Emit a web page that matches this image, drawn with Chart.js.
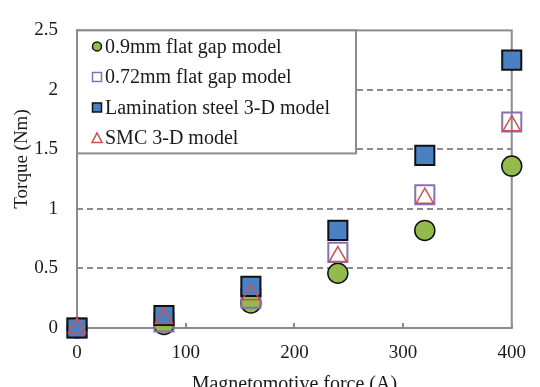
<!DOCTYPE html>
<html>
<head>
<meta charset="utf-8">
<script src="https://cdn.jsdelivr.net/npm/chart.js@4.4.7/dist/chart.umd.min.js"></script>
<style>
    html, body { margin: 0; padding: 0; background: #ffffff; }
    #wrap { width: 540px; height: 387px; }
</style>
</head>
<body>
<div id="wrap"><canvas id="torque_chart"></canvas></div>
<script>
// Magnetomotive force (A)
var mmf = [0, 80, 160, 240, 320, 400];

// Torque (Nm) per model
var gap09    = [0, 0.03, 0.21, 0.46, 0.82, 1.36];
var gap072   = [0, 0.05, 0.25, 0.635, 1.12, 1.73];
var lamSteel = [0, 0.105, 0.35, 0.82, 1.45, 2.25];
var smc3d    = [0, 0.08, 0.28, 0.60, 1.09, 1.70];

var seriesNames = ['0.9mm flat gap model', '0.72mm flat gap model', 'Lamination steel 3-D model', 'SMC 3-D model'];

var xTicks = [0, 100, 200, 300, 400];
var yTicks = [0, 0.5, 1, 1.5, 2, 2.5];

var xTitle = 'Magnetomotive force (A)';
var yTitle = 'Torque (Nm)';

var FONT = "'Liberation Serif', 'Times New Roman', serif";
var GRAY = '#8c8c8c';
var INK = '#1a1a1a';

function toPoints(ys) {
    return mmf.map(function(x, i) { return {x: x, y: ys[i]}; });
}

/*
 * Frame, dashed gridlines, small inside x ticks, the y title and the legend box.
 */
var framePlugin = {
    id: 'frame',
    beforeDatasetsDraw: function(chart) {
        var ctx = chart.ctx, a = chart.chartArea;
        var xs = chart.scales.x, ys = chart.scales.y;
        ctx.save();
        ctx.strokeStyle = GRAY;
        ctx.lineWidth = 2;
        ctx.setLineDash([6, 4]);
        yTicks.forEach(function(v) {
            if (v === yTicks[0] || v === yTicks[yTicks.length - 1]) return;
            var py = Math.round(ys.getPixelForValue(v));
            ctx.beginPath();
            ctx.moveTo(a.left, py);
            ctx.lineTo(a.right, py);
            ctx.stroke();
        });
        ctx.setLineDash([]);
        ctx.strokeRect(a.left, a.top, a.right - a.left, a.bottom - a.top);
        xTicks.forEach(function(v) {
            var px = Math.round(xs.getPixelForValue(v));
            ctx.beginPath();
            ctx.moveTo(px, a.bottom);
            ctx.lineTo(px, a.bottom - 5);
            ctx.stroke();
        });

        // y axis title
        ctx.translate(22, 159);
        ctx.rotate(-Math.PI / 2);
        ctx.font = '19px ' + FONT;
        ctx.fillStyle = INK;
        ctx.textAlign = 'center';
        ctx.textBaseline = 'middle';
        ctx.fillText(yTitle, 0, 0);
        ctx.restore();
    },
    afterDraw: function(chart) {
        var ctx = chart.ctx, a = chart.chartArea;
        var w = 279, h = 123, rowH = 30.5;
        ctx.save();
        ctx.fillStyle = '#ffffff';
        ctx.fillRect(a.left, a.top, w, h);
        ctx.strokeStyle = GRAY;
        ctx.lineWidth = 2;
        ctx.strokeRect(a.left, a.top, w, h);
        ctx.font = '20px ' + FONT;
        ctx.textBaseline = 'middle';
        chart.data.datasets.forEach(function(ds, i) {
            var cy = a.top + 16 + i * rowH;
            var cx = a.left + 20;
            ctx.lineWidth = 1.5;
            ctx.strokeStyle = ds.pointBorderColor;
            ctx.fillStyle = ds.pointBackgroundColor;
            ctx.beginPath();
            if (ds.pointStyle === 'circle') {
                ctx.arc(cx, cy, 4.5, 0, Math.PI * 2);
            } else if (ds.pointStyle === 'rect') {
                ctx.rect(cx - 4.5, cy - 4.5, 9, 9);
            } else {
                ctx.moveTo(cx, cy - 5);
                ctx.lineTo(cx + 5, cy + 4.5);
                ctx.lineTo(cx - 5, cy + 4.5);
                ctx.closePath();
            }
            ctx.fill();
            ctx.stroke();
            ctx.fillStyle = INK;
            ctx.fillText(ds.label, a.left + 28, cy + 1);
        });
        ctx.restore();
    }
};

var datasets = [
    {
        label: seriesNames[0],
        data: toPoints(gap09),
        pointStyle: 'circle',
        pointRadius: 10,
        pointBackgroundColor: '#92bb4c',
        pointBorderColor: '#111111',
        pointBorderWidth: 1.5,
        order: 4
    },
    {
        label: seriesNames[1],
        data: toPoints(gap072),
        pointStyle: 'rect',
        pointRadius: 13.5,
        pointBackgroundColor: 'rgba(255,255,255,0)',
        pointBorderColor: '#8a6fb4',
        pointBorderWidth: 2,
        order: 3
    },
    {
        label: seriesNames[2],
        data: toPoints(lamSteel),
        pointStyle: 'rect',
        pointRadius: 13.5,
        pointBackgroundColor: '#4a80c4',
        pointBorderColor: '#111111',
        pointBorderWidth: 2,
        order: 2
    },
    {
        label: seriesNames[3],
        data: toPoints(smc3d),
        pointStyle: 'triangle',
        pointRadius: 10,
        pointBackgroundColor: 'rgba(255,255,255,0)',
        pointBorderColor: '#d0504d',
        pointBorderWidth: 1.5,
        order: 1
    }
];

datasets.forEach(function(ds) {
    ds.showLine = false;
    ds.clip = false;
    ds.pointHoverRadius = ds.pointRadius;
});

var options = {
    responsive: true,
    maintainAspectRatio: false,
    animation: false,
    events: [],
    layout: {
        padding: { left: 0, top: 21, right: 18, bottom: 0 }
    },
    scales: {
        x: {
            type: 'linear',
            min: 0,
            max: 400,
            afterBuildTicks: function(scale) {
                scale.ticks = xTicks.map(function(v) { return {value: v}; });
            },
            afterFit: function(scale) { scale.height = 59; },
            grid: { display: false, drawTicks: false },
            border: { display: false },
            ticks: {
                padding: 14,
                color: INK,
                font: { family: FONT, size: 19 },
                maxRotation: 0
            },
            title: {
                display: true,
                text: xTitle,
                color: INK,
                font: { family: FONT, size: 20 },
                padding: { top: 0, bottom: -10 }
            }
        },
        y: {
            type: 'linear',
            min: 0,
            max: 2.5,
            afterBuildTicks: function(scale) {
                scale.ticks = yTicks.map(function(v) { return {value: v}; });
            },
            afterFit: function(scale) { scale.width = 77; },
            grid: { display: false, drawTicks: false },
            border: { display: false },
            ticks: {
                padding: 19,
                color: INK,
                font: { family: FONT, size: 19 },
                callback: function(value) { return String(value); }
            },
            title: { display: false }
        }
    },
    plugins: {
        legend: { display: false },
        tooltip: { enabled: false }
    }
};

var chart = new Chart(document.getElementById('torque_chart'), {
    type: 'scatter',
    data: { datasets: datasets },
    options: options,
    plugins: [framePlugin]
});
</script>
</body>
</html>
